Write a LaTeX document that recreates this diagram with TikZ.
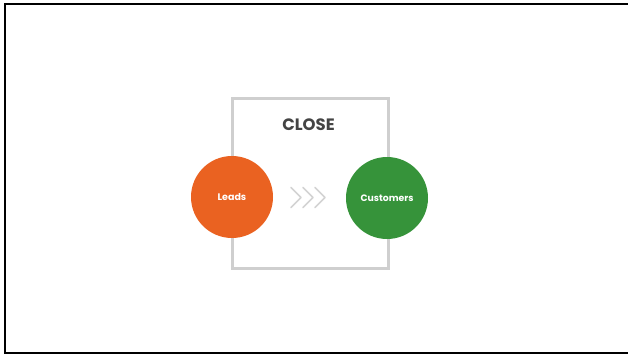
\documentclass[tikz,border=0pt]{standalone}
\usepackage{fontspec}
\setmainfont{Poppins}
\usetikzlibrary{positioning}
\definecolor{leadorange}{HTML}{EA6221}
\definecolor{custgreen}{HTML}{36933A}
\definecolor{stagegray}{HTML}{CFCFCF}
\definecolor{titlegray}{HTML}{444444}
\definecolor{chevgray}{HTML}{D3D3D3}
\tikzset{
    %Define style for the stage box
    stage/.style={
           draw=stagegray,
           line width=3pt},
    %Define style for circles
    lead/.style={
           circle,
           fill=leadorange,
           minimum size=82pt,
           inner sep=0pt,
           text=white,
           font=\fontsize{9.5}{11}\selectfont\bfseries,
           text centered},
    customer/.style={
           circle,
           fill=custgreen,
           minimum size=82pt,
           inner sep=0pt,
           text=white,
           font=\fontsize{9.3}{11}\selectfont\bfseries,
           text centered},
    title/.style={
           font=\fontsize{16.5}{19}\selectfont\bfseries,
           text=titlegray},
    % Define chevron style
    chev/.style={
           draw=chevgray,
           line width=1.6pt,
           line cap=round,
           line join=round}
}
\begin{document}
\begin{tikzpicture}[x=1pt,y=-1pt]
\useasboundingbox (0,0) rectangle (628,356);
 %frame
\draw[line width=2pt] (628,4) -- (5,4) -- (5,353) -- (628,353);
\draw[stage] (232.5,98.5) rectangle (388,268.5);
 %nodes
\node[title](close) at (308.5,125){CLOSE};
\node[lead](leads) at (232,197){Leads};
\node[customer](customers) at (387,198){Customers};
\foreach \x in {291,303,315}
  \draw[chev] (\x,187.5) -- (\x+10,197.5) -- (\x,207.5);
\end{tikzpicture}
\end{document}
